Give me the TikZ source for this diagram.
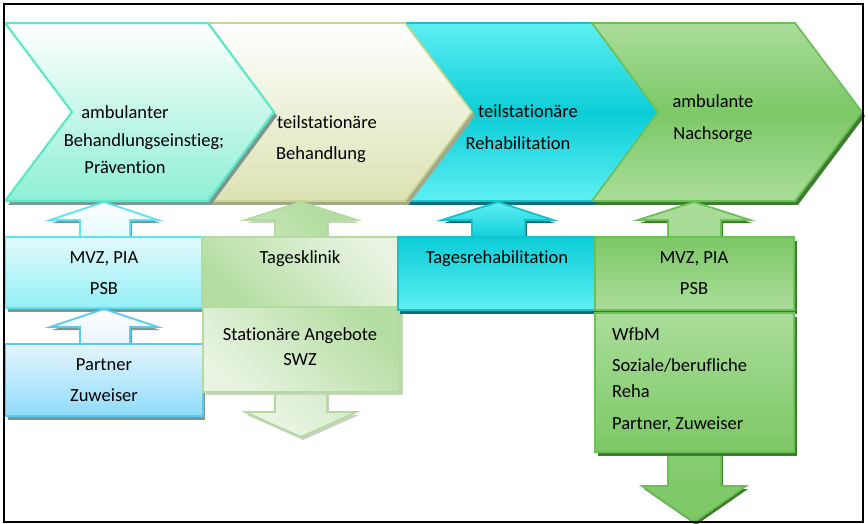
\documentclass[tikz,border=0pt]{standalone}
\usepackage{fontspec}
\setmainfont{Carlito}[Ligatures=NoCommon]
\definecolor{mintB}{HTML}{8EEFD5}
\definecolor{mintD}{HTML}{5EE8C6}
\definecolor{khakiB}{HTML}{DCE2B2}
\definecolor{khakiD}{HTML}{C5D78F}
\definecolor{khakiS}{HTML}{A3A88C}
\definecolor{cyanL}{HTML}{5EEFF3}
\definecolor{cyanM}{HTML}{0BCDD7}
\definecolor{cyanD}{HTML}{14C2CC}
\definecolor{cyanS}{HTML}{116E78}
\definecolor{grnL}{HTML}{AADD9A}
\definecolor{grnM}{HTML}{7CC866}
\definecolor{grnD}{HTML}{6DBF57}
\definecolor{grnS}{HTML}{3F7D2E}
\definecolor{lgrnL}{HTML}{E8F4E1}
\definecolor{lgrnM}{HTML}{B4DDA1}
\definecolor{lgrnD}{HTML}{B3DB9F}
\definecolor{lgrnS}{HTML}{C9D1C3}
\definecolor{aquaL}{HTML}{E3FBFD}
\definecolor{aquaB}{HTML}{93EFF5}
\definecolor{aquaD}{HTML}{5EE4F0}
\definecolor{skyL}{HTML}{E5F5FD}
\definecolor{skyB}{HTML}{8FDCFA}
\definecolor{skyD}{HTML}{5CC8F0}
\definecolor{grayS}{HTML}{7E9690}
\begin{document}
\begin{tikzpicture}[x=1pt,y=-1pt,line join=miter,
  txt/.style={font=\fontsize{18.5}{22}\selectfont, anchor=base, inner sep=0pt, text=black},
  txtl/.style={txt, anchor=base west},
  edge/.style={line width=1.8pt}]
\useasboundingbox (0,0) rectangle (868,524);
\fill[white] (0,0) rectangle (868,524);

% ---------- chevron 3 (cyan) ----------
\begin{scope}[shift={(3,4)}]
\fill[cyanS] (405,23) -- (600,23) -- (666,112) -- (600,201) -- (405,201) -- (472,112) -- cycle;
\end{scope}
\path[edge, draw=cyanD, top color=cyanL, bottom color=cyanL, middle color=cyanM]
  (405,23) -- (600,23) -- (666,112) -- (600,201) -- (405,201) -- (472,112) -- cycle;

% ---------- chevron 4 (green) ----------
\begin{scope}[shift={(3,4)}]
\fill[grnS] (592,23) -- (795,23) -- (862,112) -- (795,201) -- (592,201) -- (658,112) -- cycle;
\end{scope}
\path[edge, draw=grnD, top color=grnL, bottom color=grnL, middle color=grnM]
  (592,23) -- (795,23) -- (862,112) -- (795,201) -- (592,201) -- (658,112) -- cycle;

% ---------- chevron 2 (khaki) ----------
\begin{scope}[shift={(3,4)}]
\fill[khakiS] (208,23) -- (405,23) -- (472,112) -- (405,201) -- (208,201) -- (274,112) -- cycle;
\end{scope}
\path[edge, draw=khakiD, top color=white, bottom color=khakiB]
  (208,23) -- (405,23) -- (472,112) -- (405,201) -- (208,201) -- (274,112) -- cycle;

% ---------- chevron 1 (mint) ----------
\begin{scope}[shift={(3,4)}]
\fill[grayS] (5,23) -- (208,23) -- (274,112) -- (208,201) -- (5,201) -- (72,112) -- cycle;
\end{scope}
\path[edge, line width=2.2pt, draw=mintD, top color=white, bottom color=mintB]
  (5,23) -- (208,23) -- (274,112) -- (208,201) -- (5,201) -- (72,112) -- cycle;

% ---------- column 1 ----------
\begin{scope}[shift={(2,3)}]
\fill[grayS] (104,202) -- (158,220) -- (130,220) -- (130,240) -- (80,240) -- (80,220) -- (50,220) -- cycle;
\fill[grayS] (104,309) -- (158,327) -- (130,327) -- (130,347) -- (80,347) -- (80,327) -- (50,327) -- cycle;
\end{scope}
\path[edge, draw=aquaD, top color=white, bottom color=aquaL]
  (104,202) -- (158,220) -- (130,220) -- (130,240) -- (80,240) -- (80,220) -- (50,220) -- cycle;
\fill[grayS] (8,241) rectangle (204,312);
\path[edge, draw=aquaD, top color=aquaL, bottom color=aquaB] (5,237) rectangle (202,308);
\path[edge, draw=skyD, top color=white, bottom color=skyL]
  (104,309) -- (158,327) -- (130,327) -- (130,347) -- (80,347) -- (80,327) -- (50,327) -- cycle;
\fill[grayS] (8,348) rectangle (205,420);
\path[edge, draw=skyD, top color=skyL, bottom color=skyB] (5,344) rectangle (203,416);

% ---------- column 2 ----------
\begin{scope}[shift={(2,3)}]
\fill[lgrnS] (301,202) -- (357,220) -- (327,220) -- (327,412) -- (357,412) -- (301,437) -- (245,412) -- (275,412) -- (275,220) -- (245,220) -- cycle;
\end{scope}
\path[edge, draw=lgrnD, top color=lgrnM, bottom color=lgrnL, shading angle=-45]
  (301,202) -- (357,220) -- (327,220) -- (327,412) -- (357,412) -- (301,437) -- (245,412) -- (275,412) -- (275,220) -- (245,220) -- cycle;
\fill[lgrnS] (206,310) rectangle (403,395);
\path[edge, draw=lgrnD, top color=lgrnL, bottom color=lgrnM, shading angle=-45] (202,237) rectangle (398,307);
\path[edge, draw=lgrnD, top color=lgrnM, bottom color=lgrnL, shading angle=-45] (203,307) rectangle (400,392);

% ---------- column 3 ----------
\begin{scope}[shift={(2,3)}]
\fill[cyanS] (498,202) -- (553,220) -- (525,220) -- (525,240) -- (472,240) -- (472,220) -- (442,220) -- cycle;
\end{scope}
\path[edge, draw=cyanD, top color=cyanL, bottom color=cyanM]
  (498,202) -- (553,220) -- (525,220) -- (525,240) -- (472,240) -- (472,220) -- (442,220) -- cycle;
\fill[cyanS] (400,241) rectangle (598,314);
\path[edge, draw=cyanD, top color=cyanM, bottom color=cyanL] (398,237) rectangle (595,310);

% ---------- column 4 ----------
\begin{scope}[shift={(2,3)}]
\fill[grnS] (694,202) -- (750,220) -- (721,220) -- (721,486) -- (746,486) -- (694,522) -- (642,486) -- (668,486) -- (668,220) -- (638,220) -- cycle;
\end{scope}
\path[edge, draw=grnD, top color=grnL, bottom color=grnM]
  (694,202) -- (750,220) -- (721,220) -- (721,486) -- (746,486) -- (694,522) -- (642,486) -- (668,486) -- (668,220) -- (638,220) -- cycle;
\fill[grnS] (598,241) rectangle (797,314);
\path[edge, draw=grnD, top color=grnM, bottom color=grnL] (595,237) rectangle (794,310);
\fill[grnS] (598,317) rectangle (797,456);
\path[edge, draw=grnD, top color=grnL, bottom color=grnM] (595,313) rectangle (794,452);

% ---------- texts ----------
\node[txt] (t1a) at (125,119) {ambulanter};
\node[txt] (t1b) at (144,147) {Behandlungseinstieg;};
\node[txt] (t1c) at (125,174) {Prävention};
\node[txt] (t2a) at (327,129) {teilstationäre};
\node[txt] (t2b) at (321,160) {Behandlung};
\node[txt] (t3a) at (528,118) {teilstationäre};
\node[txt] (t3b) at (518,150) {Rehabilitation};
\node[txt] (t4a) at (713,108) {ambulante};
\node[txt] (t4b) at (713,140) {Nachsorge};

\node[txt] (b1a) at (104,263) {MVZ, PIA};
\node[txt] (b1b) at (104,294) {PSB};
\node[txt] (b2a) at (104,370) {Partner};
\node[txt] (b2b) at (104,401) {Zuweiser};
\node[txt] (b3a) at (300,263) {Tagesklinik};
\node[txt] (b4a) at (300,340) {Stationäre Angebote};
\node[txt] (b4b) at (300,365) {SWZ};
\node[txt] (b5a) at (497,263) {Tagesrehabilitation};
\node[txt] (b6a) at (694,263) {MVZ, PIA};
\node[txt] (b6b) at (694,294) {PSB};
\node[txtl] (b7a) at (612,340) {WfbM};
\node[txtl] (b7b) at (612,371) {Soziale/berufliche};
\node[txtl] (b7c) at (612,397) {Reha};
\node[txtl] (b7d) at (612,429) {Partner, Zuweiser};

% ---------- frame ----------
\draw[line width=1.6pt] (4,4) rectangle (863,522);
\end{tikzpicture}
\end{document}
